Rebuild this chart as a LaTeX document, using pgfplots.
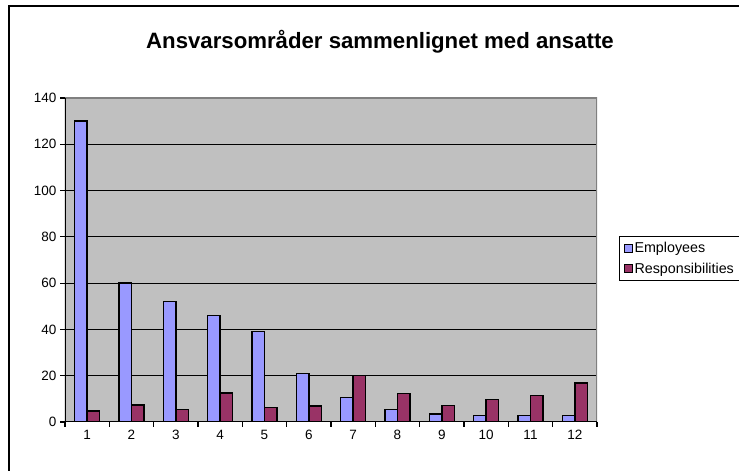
\documentclass[border=0pt]{standalone}
\usepackage{pgfplots}
\pgfplotsset{compat=1.18}
\usepackage{fontspec}
\setmainfont{Liberation Sans}
\definecolor{empcol}{HTML}{9999FF}
\definecolor{respcol}{HTML}{993366}
\definecolor{plotbg}{HTML}{C0C0C0}
\definecolor{bordergray}{HTML}{808080}
\pgfplotsset{sqlegend/.style={legend image code/.code={\draw[##1,line width=0.9pt] (0pt,-4pt) rectangle (8pt,4pt);}}}

\begin{document}
\begin{tikzpicture}[x=1pt,y=1pt]
\useasboundingbox (0,0) rectangle (739,471);
\draw[line width=2pt] (9,0) -- (9,465) -- (739,465);
\node[font=\fontsize{22.2}{26}\selectfont\bfseries] at (380,429) {Ansvarsområder sammenlignet med ansatte};
\begin{axis}[
  at={(65pt,49pt)}, anchor=south west,
  scale only axis, width=532pt, height=324pt,
  ybar=0pt, bar width=12.5pt,
  xmin=0.5, xmax=12.5, ymin=0, ymax=140,
  xtick={1,...,12}, minor xtick={0.5,1.5,...,12.5},
  ytick={0,20,...,140},
  xtick pos=bottom, ytick pos=left,
  major x tick style={draw=none},
  tick align=outside,
  major tick length=5pt, minor tick length=5pt,
  tick style={black, line width=1.2pt},
  axis background/.style={fill=plotbg},
  axis line style={draw=none},
  ymajorgrids, grid style={black, line width=1pt},
  /pgf/number format/assume math mode=true,
  tick label style={font=\fontsize{13.5}{16}\selectfont},
  legend style={at={(1.0414,0.5046)}, anchor=west, draw=black, line width=1.2pt,
    font=\fontsize{14.3}{17}\selectfont, row sep=5pt, inner sep=4pt},
  legend cell align=left,
]
\addplot[fill=empcol, draw=black, line width=1.5pt, sqlegend]
  coordinates {(1,130) (2,60) (3,52) (4,46) (5,39) (6,21) (7,10.5) (8,5.5) (9,3.5) (10,2.8) (11,2.8) (12,2.8)};
\addlegendentry{Employees}
\addplot[fill=respcol, draw=black, line width=1.5pt, sqlegend]
  coordinates {(1,4.7) (2,7.3) (3,5.5) (4,12.5) (5,6.3) (6,7) (7,20) (8,12.3) (9,7.2) (10,9.7) (11,11.5) (12,16.8)};
\addlegendentry{Responsibilities}
\draw[bordergray, line width=2pt] (rel axis cs:0,1) -- (rel axis cs:1,1) -- (rel axis cs:1,0);
\draw[black, line width=1.5pt] (rel axis cs:0,1) -- (rel axis cs:0,0) -- (rel axis cs:1,0);
\end{axis}
\end{tikzpicture}
\end{document}
